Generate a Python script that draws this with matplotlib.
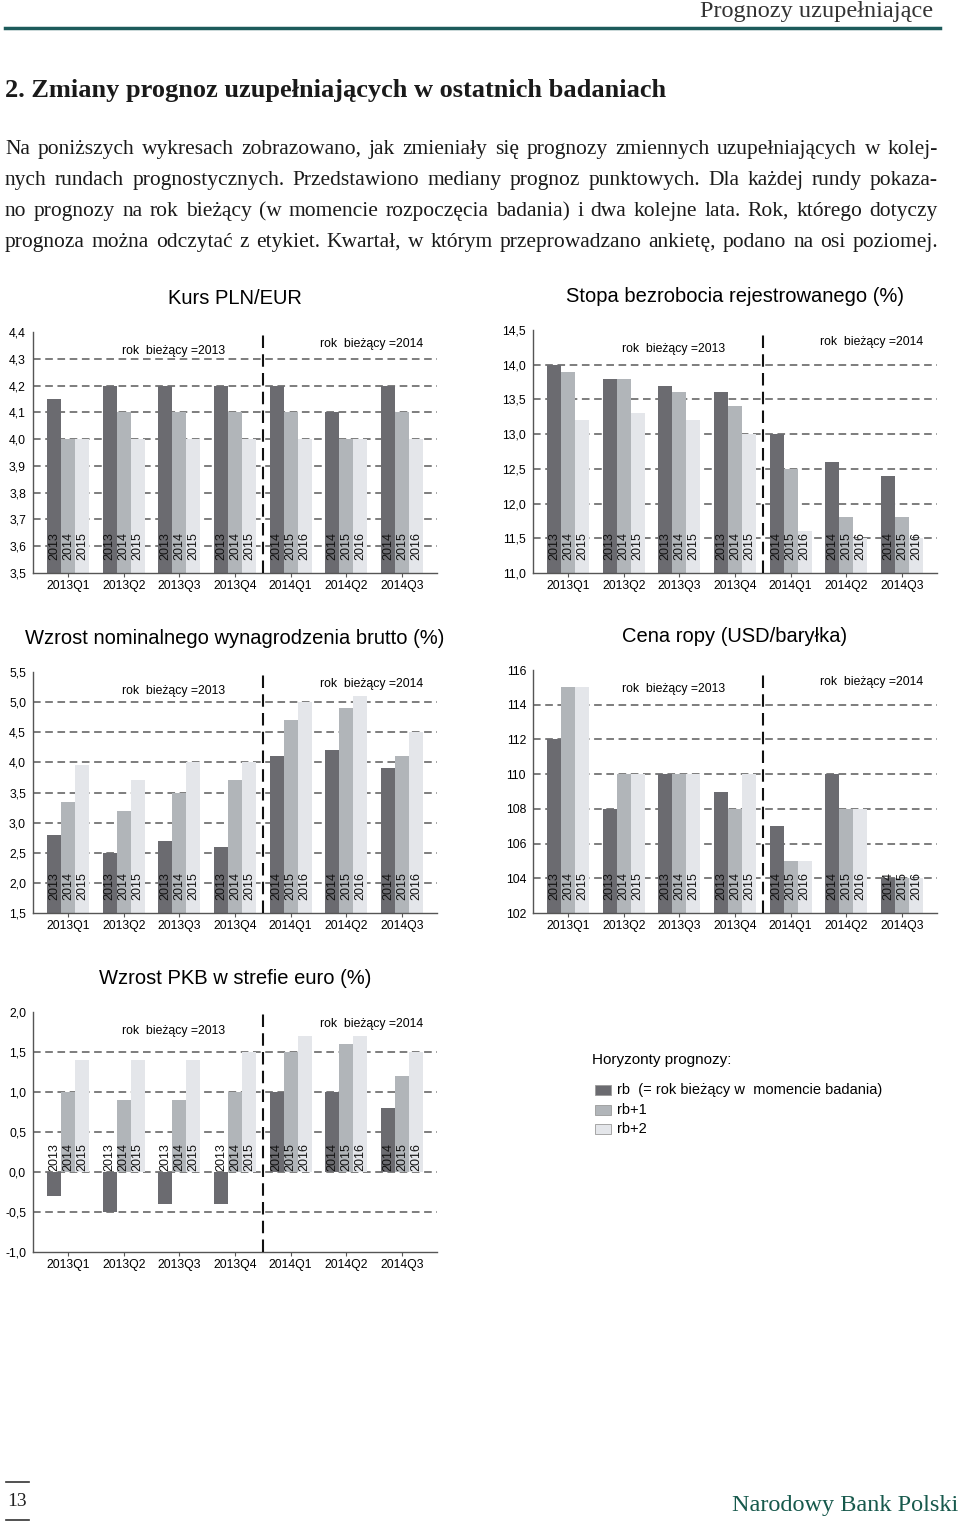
import numpy as np
import matplotlib
matplotlib.use('Agg')
import matplotlib.pyplot as plt
from matplotlib.ticker import FuncFormatter
from matplotlib.patches import Rectangle
from matplotlib.lines import Line2D

plt.rcParams['font.family'] = ['Liberation Sans', 'DejaVu Sans']

W, H = 960, 1522

quarters = ['2013Q1', '2013Q2', '2013Q3', '2013Q4', '2014Q1', '2014Q2', '2014Q3']
years_2013 = ['2013', '2014', '2015']
years_2014 = ['2014', '2015', '2016']
bar_years = [years_2013] * 4 + [years_2014] * 3

# Kurs PLN/EUR
pln_rb = [4.15, 4.2, 4.2, 4.2, 4.2, 4.1, 4.2]
pln_rb1 = [4.0, 4.1, 4.1, 4.1, 4.1, 4.0, 4.1]
pln_rb2 = [4.0, 4.0, 4.0, 4.0, 4.0, 4.0, 4.0]

# Stopa bezrobocia rejestrowanego (%)
unemp_rb = [14.0, 13.8, 13.7, 13.6, 13.0, 12.6, 12.4]
unemp_rb1 = [13.9, 13.8, 13.6, 13.4, 12.5, 11.8, 11.8]
unemp_rb2 = [13.2, 13.3, 13.2, 13.0, 11.6, 11.5, 11.5]

# Wzrost nominalnego wynagrodzenia brutto (%)
wage_rb = [2.8, 2.5, 2.7, 2.6, 4.1, 4.2, 3.9]
wage_rb1 = [3.35, 3.2, 3.5, 3.7, 4.7, 4.9, 4.1]
wage_rb2 = [3.95, 3.7, 4.0, 4.0, 5.0, 5.1, 4.5]

# Cena ropy (USD/baryłka)
oil_rb = [112, 108, 110, 109, 107, 110, 104]
oil_rb1 = [115, 110, 110, 108, 105, 108, 104]
oil_rb2 = [115, 110, 110, 110, 105, 108, 104]

# Wzrost PKB w strefie euro (%)
gdp_rb = [-0.3, -0.5, -0.4, -0.4, 1.0, 1.0, 0.8]
gdp_rb1 = [1.0, 0.9, 0.9, 1.0, 1.5, 1.6, 1.2]
gdp_rb2 = [1.4, 1.4, 1.4, 1.5, 1.7, 1.7, 1.5]

legend_title = 'Horyzonty prognozy:'
legend_labels = ['rb  (= rok bieżący w  momencie badania)', 'rb+1', 'rb+2']
colors = ['#6b6b70', '#b1b5b9', '#e4e6ea']

body_lines = [
    'Na poniższych wykresach zobrazowano, jak zmieniały się prognozy zmiennych uzupełniających w kolej-',
    'nych rundach prognostycznych. Przedstawiono mediany prognoz punktowych. Dla każdej rundy pokaza-',
    'no prognozy na rok bieżący (w momencie rozpoczęcia badania) i dwa kolejne lata. Rok, którego dotyczy',
    'prognoza można odczytać z etykiet. Kwartał, w którym przeprowadzano ankietę, podano na osi poziomej.',
]

comma1 = FuncFormatter(lambda v, p: f'{v:.1f}'.replace('.', ','))
integer = FuncFormatter(lambda v, p: f'{v:.0f}')

fig = plt.figure(figsize=(W / 100, H / 100), dpi=100)
grid_col = '#5a5a5a'


def panel(x0, y_top, x1, y_bot, title, series, ylo, yhi, step, fmt, label_base, label_pad):
    ax = fig.add_axes([x0 / W, 1 - y_bot / H, (x1 - x0) / W, (y_bot - y_top) / H])
    x = np.arange(len(quarters))
    w = 0.25
    for i, (vals, col) in enumerate(zip(series, colors)):
        ax.bar(x + (i - 1) * w, vals, width=w, color=col, zorder=2)
        for xi, yrs in zip(x, bar_years):
            ax.annotate(yrs[i], (xi + (i - 1) * w, label_base), xytext=(0, label_pad),
                        textcoords='offset points', rotation=90, ha='center', va='bottom',
                        fontsize=9, color='#111111', zorder=3)
    ticks = np.arange(ylo, yhi + step / 2, step)
    for t in ticks[1:-1]:
        ax.axhline(t, color=grid_col, ls=(0, (5, 3)), lw=1.1, zorder=1)
    ax.axvline(3.5, color='#111111', ls=(0, (6, 3)), lw=1.5, zorder=4)
    ax.set_xlim(-0.63, 6.63)
    ax.set_ylim(ylo, yhi)
    ax.set_yticks(ticks)
    ax.yaxis.set_major_formatter(fmt)
    ax.set_xticks(x)
    ax.set_xticklabels(quarters)
    ax.tick_params(axis='x', length=3, color='#555555', labelsize=8.8, pad=2)
    ax.tick_params(axis='y', length=0, labelsize=8.8, pad=5)
    for s in ['top', 'right']:
        ax.spines[s].set_visible(False)
    for s in ['left', 'bottom']:
        ax.spines[s].set_color('#555555')
        ax.spines[s].set_linewidth(1)
    ax.text(1.9, 0.92, 'rok  bieżący =2013', transform=ax.get_xaxis_transform(),
            ha='center', va='center', fontsize=8.8)
    ax.text(5.45, 0.95, 'rok  bieżący =2014', transform=ax.get_xaxis_transform(),
            ha='center', va='center', fontsize=8.8)
    fig.text((x0 + x1) / 2 / W, 1 - (y_top - 34) / H, title, ha='center', va='center', fontsize=14.5)
    return ax


panel(33, 332, 437, 573, 'Kurs PLN/EUR', [pln_rb, pln_rb1, pln_rb2], 3.5, 4.4, 0.1, comma1, 3.5, 9.4)
panel(533, 330, 937, 573, 'Stopa bezrobocia rejestrowanego (%)', [unemp_rb, unemp_rb1, unemp_rb2],
      11.0, 14.5, 0.5, comma1, 11.0, 9.4)
panel(33, 672, 437, 913, 'Wzrost nominalnego wynagrodzenia brutto (%)', [wage_rb, wage_rb1, wage_rb2],
      1.5, 5.5, 0.5, comma1, 1.5, 9.4)
panel(533, 670, 937, 913, 'Cena ropy (USD/baryłka)', [oil_rb, oil_rb1, oil_rb2],
      102, 116, 2, integer, 102, 9.4)
panel(33, 1012, 437, 1252, 'Wzrost PKB w strefie euro (%)', [gdp_rb, gdp_rb1, gdp_rb2],
      -1.0, 2.0, 0.5, comma1, 0.0, 1.0)

# legend
fig.text(592 / W, 1 - 1060 / H, legend_title, ha='left', va='center', fontsize=11)
for k, (lab, col) in enumerate(zip(legend_labels, colors)):
    yc = 1090 + k * 19.5
    fig.patches.append(Rectangle((595 / W, 1 - (yc + 5) / H), 16 / W, 10 / H, facecolor=col,
                                 edgecolor='#9a9a9a', lw=0.6, transform=fig.transFigure))
    fig.text(617 / W, 1 - yc / H, lab, ha='left', va='center', fontsize=10.5)

# page header
serif = 'Liberation Serif'
fig.text(933 / W, 1 - 12 / H, 'Prognozy uzupełniające', ha='right', va='center',
         fontsize=17.5, family=serif, color='#333333')
fig.lines.append(Line2D([5 / W, 940 / W], [1 - 28 / H, 1 - 28 / H], color='#1d5b5b', lw=2.5,
                        transform=fig.transFigure))
fig.text(5 / W, 1 - 91 / H, '2. Zmiany prognoz uzupełniających w ostatnich badaniach', ha='left',
         va='center', fontsize=19, family=serif, weight='bold', color='#1a1a1a')

# justified paragraph, word by word on a shared baseline
renderer = fig.canvas.get_renderer()
for k, line in enumerate(body_lines):
    y = 1 - (154 + 31 * k) / H
    words = line.split(' ')
    arts = [fig.text(0, y, wd, fontsize=15.5, family=serif, va='baseline', color='#1a1a1a')
            for wd in words]
    widths = [a.get_window_extent(renderer).width for a in arts]
    gap = (938 - 5 - sum(widths)) / (len(words) - 1)
    xpos = 5
    for a, wdt in zip(arts, widths):
        a.set_x(xpos / W)
        xpos += wdt + gap

# footer
fig.text(17 / W, 1 - 1502 / H, '13', ha='center', va='center', fontsize=14, family=serif, color='#222222')
for yl in [1482, 1520]:
    fig.lines.append(Line2D([6 / W, 29 / W], [1 - yl / H, 1 - yl / H], color='#333333', lw=1.2,
                            transform=fig.transFigure))
fig.text(958 / W, 1 - 1505 / H, 'Narodowy Bank Polski', ha='right', va='center', fontsize=17.5,
         family=serif, color='#17594c')

fig.savefig('out.png', dpi=100)
